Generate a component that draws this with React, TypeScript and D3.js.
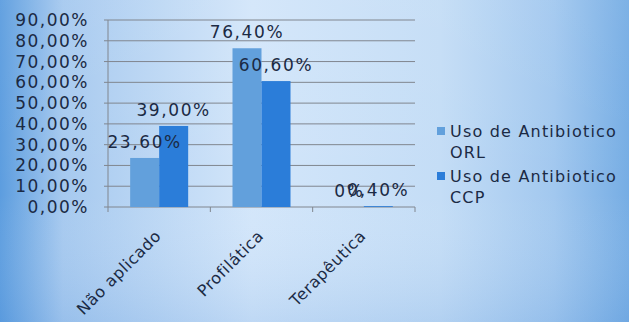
import React from "react";
import * as d3 from "d3";

const categories = ["Não aplicado", "Profilática", "Terapêutica"];
const seriesNames = ["Uso de Antibiotico ORL", "Uso de Antibiotico CCP"];
const orlValues = [23.6, 76.4, 0];
const ccpValues = [39.0, 60.6, 0.4];
const orlLabels = ["23,60%", "76,40%", "0%"];
const ccpLabels = ["39,00%", "60,60%", "0,40%"];
const yTicks = [0, 10, 20, 30, 40, 50, 60, 70, 80, 90];
const colors = ["#62a0dc", "#2b7dd9"];

const W = 629, H = 322;
const left = 108, right = 415, top = 20, bottom = 207;

export default function App() {
  const x = d3.scaleBand<string>().domain(categories).range([left, right]).paddingInner(0).paddingOuter(0);
  const y = d3.scaleLinear().domain([0, 90]).range([bottom, top]);
  const bw = 29;
  const series = [orlValues, ccpValues];
  const labels = [orlLabels, ccpLabels];
  const fmt = (v: number) => d3.format(".2f")(v).replace(".", ",") + "%";
  const font = "'DejaVu Sans', Verdana, sans-serif";
  const textColor = "#1b2a44";
  return (
    <svg width={W} height={H} style={{ position: "absolute", left: 0, top: 0 }}>
      <defs>
        <linearGradient id="bgH" x1="0" x2="1" y1="0" y2="0">
          <stop offset="0" stopColor="#5c9ddf" />
          <stop offset="0.1" stopColor="#a6c9ef" />
          <stop offset="0.4" stopColor="#d3e6fa" />
          <stop offset="0.7" stopColor="#c4ddf6" />
          <stop offset="0.88" stopColor="#a2c8ef" />
          <stop offset="1" stopColor="#76ade4" />
        </linearGradient>
        <linearGradient id="bgV" x1="0" x2="0" y1="0" y2="1">
          <stop offset="0" stopColor="#ffffff" stopOpacity="0.05" />
          <stop offset="0.6" stopColor="#ffffff" stopOpacity="0" />
          <stop offset="1" stopColor="#4a8ad6" stopOpacity="0.15" />
        </linearGradient>
      </defs>
      <rect x={0} y={0} width={W} height={H} fill="url(#bgH)" />
      <rect x={0} y={0} width={W} height={H} fill="url(#bgV)" />
      {yTicks.map((t) => (
        <line key={t} x1={left} x2={right} y1={y(t)} y2={y(t)} stroke="#80868f" strokeWidth={1} />
      ))}
      <line x1={left} x2={left} y1={top} y2={bottom} stroke="#80868f" />
      {yTicks.map((t) => (
        <line key={"t" + t} x1={left - 4} x2={left} y1={y(t)} y2={y(t)} stroke="#80868f" />
      ))}
      {[...categories.map((c) => x(c) as number), right].map((p, i) => (
        <line key={"c" + i} x1={p} x2={p} y1={bottom} y2={bottom + 5} stroke="#80868f" />
      ))}
      {categories.map((c, ci) => {
        const cx = (x(c) as number) + x.bandwidth() / 2;
        return series.map((vals, si) => {
          const bx = cx - bw + si * bw;
          return (
            <rect key={c + si} x={bx} y={y(vals[ci])} width={bw} height={bottom - y(vals[ci])} fill={colors[si]} />
          );
        });
      })}
      {categories.map((c, ci) => {
        const cx = (x(c) as number) + x.bandwidth() / 2;
        return series.map((vals, si) => (
          <text key={"l" + c + si} x={cx - bw / 2 + si * bw} y={y(vals[ci]) - 10} textAnchor="middle"
            fontFamily={font} fontSize={17} fill={textColor} letterSpacing={1.6}>
            {labels[si][ci]}
          </text>
        ));
      })}
      {yTicks.map((t) => (
        <text key={"y" + t} x={left - 19} y={y(t) + 6} textAnchor="end" fontFamily={font} fontSize={17}
          fill={textColor} letterSpacing={1.5}>
          {fmt(t)}
        </text>
      ))}
      {categories.map((c) => {
        const cx = (x(c) as number) + x.bandwidth() / 2 + 3;
        return (
          <text key={"x" + c} transform={`translate(${cx},${bottom + 30}) rotate(-45)`} textAnchor="end"
            fontFamily={font} fontSize={16} fill={textColor} letterSpacing={0.6}>
            {c}
          </text>
        );
      })}
      {seriesNames.map((s, i) => {
        const words = s.split(" ");
        const line1 = words.slice(0, -1).join(" ");
        const line2 = words[words.length - 1];
        const ly = 137 + i * 45;
        return (
          <g key={"lg" + i}>
            <rect x={437} y={ly - 10} width={8} height={8} fill={colors[i]} />
            <text x={450} y={ly} fontFamily={font} fontSize={16} fill={textColor} letterSpacing={1.2}>{line1}</text>
            <text x={450} y={ly + 21} fontFamily={font} fontSize={16} fill={textColor} letterSpacing={1.2}>{line2}</text>
          </g>
        );
      })}
    </svg>
  );
}
